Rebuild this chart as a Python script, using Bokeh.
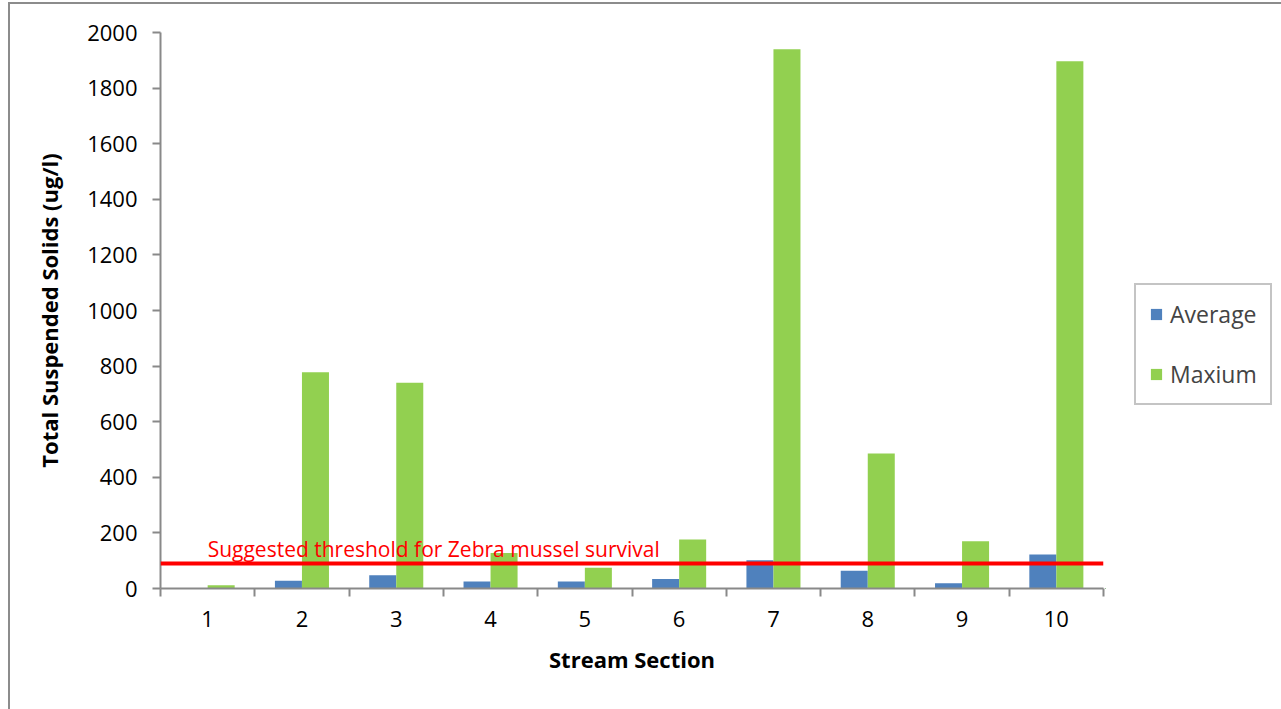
from bokeh.plotting import figure
from bokeh.models import (ColumnDataSource, Span, Legend, LegendItem, FixedTicker,
                          Range1d, Label)
from bokeh.layouts import row
from bokeh.transform import dodge
from bokeh.embed import file_html
from bokeh.resources import INLINE

sections = [1, 2, 3, 4, 5, 6, 7, 8, 9, 10]
section_labels = ["1", "2", "3", "4", "5", "6", "7", "8", "9", "10"]
average = [1, 28, 48, 25, 25, 34, 102, 64, 19, 122]
maxium = [12, 778, 740, 128, 75, 176, 1940, 486, 170, 1897]
threshold = 90
y_ticks = [0, 200, 400, 600, 800, 1000, 1200, 1400, 1600, 1800, 2000]

FONT = "Open Sans"
GRAY = "#898989"
BLUE = "#4F81BD"
GREEN = "#92D050"

src = ColumnDataSource(dict(section=sections, average=average, maxium=maxium))

p = figure(width=1095, height=705, output_backend="svg", toolbar_location=None,
           x_range=Range1d(0.5, 10.5), y_range=Range1d(0, 2000),
           min_border_left=150, min_border_right=2, min_border_top=28,
           min_border_bottom=121)
p.outline_line_color = None
p.xgrid.visible = False
p.ygrid.visible = False

p.vbar(x=dodge("section", -0.1433, range=p.x_range), top="average",
       width=0.2865, source=src, fill_color=BLUE, line_color=None)
p.vbar(x=dodge("section", 0.1433, range=p.x_range), top="maxium",
       width=0.2865, source=src, fill_color=GREEN, line_color=None)

p.add_layout(Span(location=threshold, dimension="width", line_color="#FF0000",
                  line_width=4))
p.add_layout(Label(x=1, y=threshold, y_offset=14,
                   text="Suggested threshold for Zebra mussel survival",
                   text_color="#FF0000", text_font=FONT, text_font_size="21px",
                   text_baseline="middle", text_align="left"))

# axes
xa = p.xaxis[0]
xa.ticker = FixedTicker(ticks=sections, minor_ticks=[s - 0.5 for s in sections] + [10.5])
xa.major_label_overrides = {s: l for s, l in zip(sections, section_labels)}
xa.major_tick_line_color = None
xa.minor_tick_line_color = GRAY
xa.minor_tick_line_width = 2
xa.minor_tick_out = 8
xa.minor_tick_in = 0
xa.axis_line_color = GRAY
xa.axis_line_width = 2
xa.major_label_text_font = FONT
xa.major_label_text_font_size = "22px"
xa.major_label_text_color = "#000000"
xa.major_label_standoff = 14
xa.axis_label = "Stream Section"
xa.axis_label_text_font = FONT
xa.axis_label_text_font_style = "bold"
xa.axis_label_text_font_size = "22px"
xa.axis_label_text_color = "#000000"
xa.axis_label_standoff = 14

ya = p.yaxis[0]
ya.ticker = FixedTicker(ticks=y_ticks, minor_ticks=[])
ya.axis_line_color = GRAY
ya.axis_line_width = 2
ya.major_tick_line_color = GRAY
ya.major_tick_line_width = 2
ya.major_tick_out = 8
ya.major_tick_in = 0
ya.minor_tick_line_color = None
ya.major_label_text_font = FONT
ya.major_label_text_font_size = "22px"
ya.major_label_text_color = "#000000"
ya.major_label_standoff = 15
ya.axis_label = "Total Suspended Solids (ug/l)"
ya.axis_label_text_font = FONT
ya.axis_label_text_font_style = "bold"
ya.axis_label_text_font_size = "22px"
ya.axis_label_text_color = "#000000"
ya.axis_label_standoff = 20

# legend panel (separate figure to the right of the plot area; its ranges
# exclude the data and the proxy bars have zero width, so only the legend shows)
p2 = figure(width=176, height=705, output_backend="svg", toolbar_location=None,
            x_range=Range1d(1000, 1001), y_range=Range1d(10000, 10001),
            x_axis_type=None, y_axis_type=None,
            min_border=0)
p2.outline_line_color = None
p2.xgrid.visible = False
p2.ygrid.visible = False
l_avg = p2.vbar(x="section", top="average", width=0, source=src,
                fill_color=BLUE, line_color=None)
l_max = p2.vbar(x="section", top="maxium", width=0, source=src,
                fill_color=GREEN, line_color=None)

legend = Legend(items=[LegendItem(label="Average", renderers=[l_avg]),
                       LegendItem(label="Maxium", renderers=[l_max])],
                location=(29, 183), orientation="vertical",
                glyph_width=14, glyph_height=14, label_standoff=7,
                label_text_font=FONT, label_text_font_size="23px",
                label_height=31, spacing=28, padding=13, margin=0,
                border_line_color=GRAY, border_line_width=2,
                background_fill_color="white", background_fill_alpha=1)
p2.add_layout(legend, "center")

layout = row(p, p2, spacing=0)
layout.styles = {"margin-left": "8px", "margin-top": "2px",
                 "border-left": "2px solid #8c8c8c", "border-top": "2px solid #8c8c8c"}

open("out.html", "w").write(file_html(layout, INLINE))
